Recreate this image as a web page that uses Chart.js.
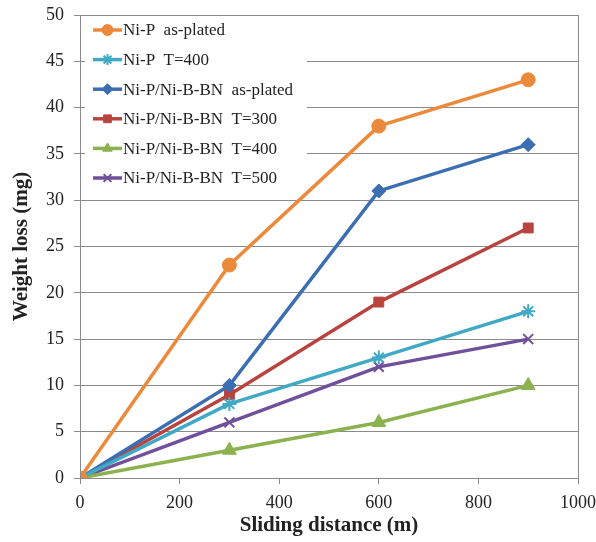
<!DOCTYPE html>
<html><head><meta charset="utf-8">
<script src="https://cdn.jsdelivr.net/npm/chart.js@4/dist/chart.umd.min.js"></script>
<style>html,body{margin:0;padding:0;background:#fff}#wrap{width:596px;height:542px}</style>
</head><body><div id="wrap"><canvas id="c" width="596" height="542"></canvas></div>
<script>
const distances = [0, 300, 600, 900];
const seriesNames = ["Ni-P  as-plated", "Ni-P  T=400", "Ni-P/Ni-B-BN  as-plated", "Ni-P/Ni-B-BN  T=300", "Ni-P/Ni-B-BN  T=400", "Ni-P/Ni-B-BN  T=500"];
const niPAsPlated = [0, 23, 38, 43];
const niPT400 = [0, 8, 13, 18];
const bnAsPlated = [0, 10, 31, 36];
const bnT300 = [0, 9, 19, 27];
const bnT400 = [0, 3, 6, 10];
const bnT500 = [0, 6, 12, 15];
const xTicks = [0, 200, 400, 600, 800, 1000];
const yTicks = [0, 5, 10, 15, 20, 25, 30, 35, 40, 45, 50];

const colors = ["#EC8A3B", "#40A9C5", "#3C6EB2", "#B9443F", "#8BB24F", "#70509B"];
const styles = ["circle", "star", "rectRot", "rect", "triangle", "crossRot"];
const radii = [7, 7, 7, 7, 8, 7];
const values = [niPAsPlated, niPT400, bnAsPlated, bnT300, bnT400, bnT500];

const datasets = values.map((v, i) => ({
  label: seriesNames[i],
  data: v.map((y, j) => ({x: distances[j], y})),
  borderColor: colors[i],
  backgroundColor: colors[i],
  pointBorderColor: colors[i],
  pointBackgroundColor: colors[i],
  pointStyle: styles[i],
  pointRadius: radii[i],
  pointBorderWidth: (styles[i] === "star" || styles[i] === "crossRot") ? 2 : 1,
  borderWidth: 3.5,
  showLine: true,
  tension: 0
}));

const font = "'Liberation Serif', 'Times New Roman', serif";

const legendPlugin = {
  id: 'inLegend',
  beforeDatasetsDraw(chart) {
    const ctx = chart.ctx;
    const ca = chart.chartArea;
    ctx.save();
    ctx.fillStyle = '#fff';
    ctx.fillRect(ca.left + 5, ca.top + 1, 222, 178);
    ctx.restore();
  },
  afterDatasetsDraw(chart) {
    const ctx = chart.ctx;
    const ca = chart.chartArea;
    ctx.save();
    ctx.font = "17px " + font;
    ctx.textBaseline = 'middle';
    chart.data.datasets.forEach((ds, i) => {
      const y = ca.top + 15 + i * 29.6;
      const x0 = ca.left + 13;
      ctx.strokeStyle = ds.borderColor;
      ctx.lineWidth = 3.5;
      ctx.beginPath(); ctx.moveTo(x0, y); ctx.lineTo(x0 + 29, y); ctx.stroke();
      ctx.fillStyle = ds.backgroundColor;
      ctx.lineWidth = ds.pointBorderWidth;
      Chart.helpers.drawPoint(ctx, {pointStyle: ds.pointStyle, radius: 5.5, rotation: 0, borderWidth: ds.pointBorderWidth}, x0 + 14.5, y);
      ctx.fillStyle = '#222';
      ctx.fillText(ds.label, x0 + 30, y + 1);
    });
    ctx.strokeStyle = '#8a8a8a';
    ctx.lineWidth = 1;
    ctx.strokeRect(ca.left + 0.5, ca.top + 0.5, ca.right - ca.left, ca.bottom - ca.top);
    ctx.restore();
  }
};

new Chart(document.getElementById('c'), {
  type: 'scatter',
  data: { datasets },
  options: {
    responsive: false,
    animation: false,
    layout: { padding: { left: 0, right: 18, top: 15, bottom: 0 } },
    plugins: { legend: { display: false }, tooltip: { enabled: false } },
    scales: {
      x: {
        type: 'linear', min: 0, max: 1000,
        afterBuildTicks: s => { s.ticks = xTicks.map(v => ({value: v})); },
        afterFit: s => { s.height = 64; s.paddingLeft = 0; s.paddingRight = 0; },
        grid: { drawOnChartArea: false, color: '#8a8a8a', tickLength: 6 },
        border: { color: '#8a8a8a' },
        ticks: { color: '#222', font: { family: font, size: 18 }, padding: 8, maxRotation: 0, callback: v => String(v) },
        title: { display: true, text: 'Sliding distance (m)', color: '#222', font: { family: font, size: 21, weight: 'bold' }, padding: { top: 0 } }
      },
      y: {
        type: 'linear', min: 0, max: 50,
        afterBuildTicks: s => { s.ticks = yTicks.map(v => ({value: v})); },
        afterFit: s => { s.width = 80; s.paddingTop = 0; s.paddingBottom = 0; },
        grid: { color: '#8a8a8a', tickLength: 6 },
        border: { color: '#8a8a8a' },
        ticks: { color: '#222', font: { family: font, size: 18 }, padding: 10 },
        title: { display: true, text: 'Weight loss (mg)', color: '#222', font: { family: font, size: 21, weight: 'bold' }, padding: { bottom: 0, top: 9 } }
      }
    }
  },
  plugins: [legendPlugin]
});
</script></body></html>
